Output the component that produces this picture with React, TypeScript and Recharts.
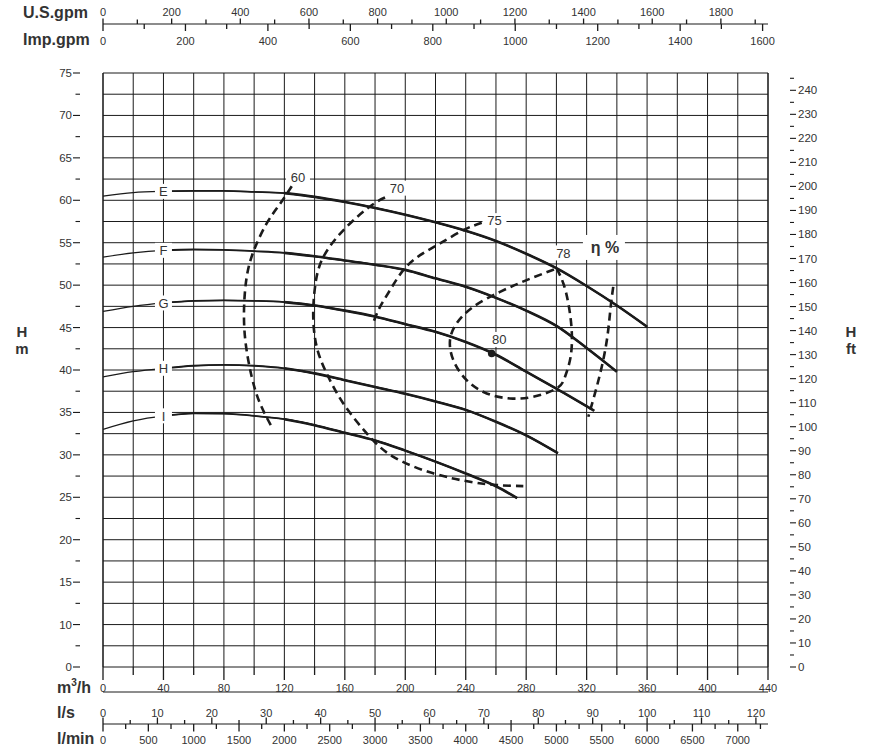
import React from 'react';
import { ComposedChart, Line, XAxis, YAxis, CartesianGrid, Scatter } from 'recharts';

const W = 877;
const H = 748;
const INK = '#1b1b1b';
const TXT = '#333333';
const FONT = '"Liberation Sans", Arial, Helvetica, sans-serif';

// ---- Pump head curves: flow q (m³/h), head h (m) ----
const CURVE_E = [
  { q: 0, h: 60.5 }, { q: 20, h: 60.9 }, { q: 40, h: 61.05 }, { q: 60, h: 61.1 }, { q: 80, h: 61.1 },
  { q: 100, h: 61.0 }, { q: 120, h: 60.85 }, { q: 140, h: 60.4 }, { q: 160, h: 59.8 }, { q: 180, h: 59.1 },
  { q: 200, h: 58.3 }, { q: 220, h: 57.4 }, { q: 240, h: 56.4 }, { q: 260, h: 55.2 }, { q: 280, h: 53.7 },
  { q: 300, h: 52.0 }, { q: 320, h: 49.9 }, { q: 340, h: 47.6 }, { q: 360, h: 45.1 },
];
const CURVE_F = [
  { q: 0, h: 53.3 }, { q: 20, h: 53.8 }, { q: 40, h: 54.1 }, { q: 60, h: 54.2 }, { q: 80, h: 54.15 },
  { q: 100, h: 54.0 }, { q: 120, h: 53.8 }, { q: 140, h: 53.4 }, { q: 160, h: 52.9 }, { q: 180, h: 52.4 },
  { q: 200, h: 51.8 }, { q: 220, h: 50.8 }, { q: 240, h: 49.8 }, { q: 260, h: 48.5 }, { q: 280, h: 47.0 },
  { q: 300, h: 45.2 }, { q: 320, h: 42.6 }, { q: 340, h: 39.8 },
];
const CURVE_G = [
  { q: 0, h: 46.9 }, { q: 20, h: 47.5 }, { q: 40, h: 47.9 }, { q: 60, h: 48.15 }, { q: 80, h: 48.2 },
  { q: 100, h: 48.15 }, { q: 120, h: 48.0 }, { q: 140, h: 47.6 }, { q: 160, h: 47.0 }, { q: 180, h: 46.3 },
  { q: 200, h: 45.4 }, { q: 220, h: 44.5 }, { q: 240, h: 43.3 }, { q: 260, h: 41.8 }, { q: 280, h: 39.8 },
  { q: 300, h: 37.8 }, { q: 325, h: 35.2 },
];
const CURVE_H = [
  { q: 0, h: 39.2 }, { q: 20, h: 39.8 }, { q: 40, h: 40.2 }, { q: 60, h: 40.5 }, { q: 80, h: 40.6 },
  { q: 100, h: 40.5 }, { q: 120, h: 40.2 }, { q: 140, h: 39.6 }, { q: 160, h: 38.8 }, { q: 180, h: 38.0 },
  { q: 200, h: 37.2 }, { q: 220, h: 36.3 }, { q: 240, h: 35.3 }, { q: 260, h: 33.9 }, { q: 280, h: 32.3 },
  { q: 301, h: 30.2 },
];
const CURVE_I = [
  { q: 0, h: 33.0 }, { q: 20, h: 34.0 }, { q: 40, h: 34.6 }, { q: 60, h: 34.9 }, { q: 80, h: 34.85 },
  { q: 100, h: 34.6 }, { q: 120, h: 34.2 }, { q: 140, h: 33.5 }, { q: 160, h: 32.6 }, { q: 180, h: 31.7 },
  { q: 200, h: 30.5 }, { q: 220, h: 29.2 }, { q: 240, h: 27.8 }, { q: 260, h: 26.3 }, { q: 274, h: 24.9 },
];
const PUMP_CURVES = [
  { name: 'E', data: CURVE_E },
  { name: 'F', data: CURVE_F },
  { name: 'G', data: CURVE_G },
  { name: 'H', data: CURVE_H },
  { name: 'I', data: CURVE_I },
];
const CURVE_LABEL_Q = 40;

// ---- Iso-efficiency curves (dashed) ----
const EFF_60 = [
  { q: 124.9, h: 61.66 }, { q: 116.8, h: 59.5 }, { q: 108.3, h: 57.27 }, { q: 99.9, h: 54.12 },
  { q: 95.1, h: 50.98 }, { q: 93.3, h: 47.05 }, { q: 94.4, h: 43.13 }, { q: 98.4, h: 39.2 },
  { q: 103.9, h: 36.06 }, { q: 111.6, h: 33.31 },
];
const EFF_70 = [
  { q: 186.6, h: 60.33 }, { q: 177.8, h: 59.42 }, { q: 161.2, h: 56.87 }, { q: 145.8, h: 53.33 },
  { q: 140.3, h: 49.8 }, { q: 139.1, h: 46.27 }, { q: 141.4, h: 42.73 }, { q: 148.0, h: 39.6 },
  { q: 159.0, h: 36.06 }, { q: 174.5, h: 32.53 }, { q: 192.1, h: 29.77 }, { q: 218.5, h: 27.82 },
  { q: 242.8, h: 26.83 }, { q: 260.5, h: 26.44 }, { q: 278.1, h: 26.32 },
];
const EFF_75 = [
  { q: 250.6, h: 57.34 }, { q: 238.4, h: 56.48 }, { q: 223.0, h: 54.91 }, { q: 209.8, h: 53.53 },
  { q: 198.7, h: 51.77 }, { q: 189.9, h: 49.41 }, { q: 183.3, h: 47.44 }, { q: 179.3, h: 45.79 },
];
const EFF_75_RIGHT = [
  { q: 337.6, h: 49.8 }, { q: 335.9, h: 47.44 }, { q: 333.7, h: 43.91 }, { q: 330.0, h: 40.38 },
  { q: 325.5, h: 37.24 }, { q: 321.1, h: 34.49 },
];
const EFF_78 = [
  { q: 300.2, h: 51.97 }, { q: 304.6, h: 50.2 }, { q: 307.9, h: 47.84 }, { q: 310.1, h: 44.7 },
  { q: 309.4, h: 41.55 }, { q: 305.7, h: 39.2 }, { q: 300.2, h: 37.83 }, { q: 284.7, h: 36.84 },
  { q: 269.3, h: 36.65 }, { q: 253.9, h: 37.24 }, { q: 240.6, h: 38.81 }, { q: 231.8, h: 41.16 },
  { q: 229.6, h: 43.52 }, { q: 234.0, h: 45.49 }, { q: 245.0, h: 47.44 }, { q: 262.7, h: 49.21 },
  { q: 280.3, h: 50.59 }, { q: 300.2, h: 51.97 },
];
const EFF_LINES = [EFF_60, EFF_70, EFF_75, EFF_75_RIGHT, EFF_78];
const EFF_LABELS = [
  { text: '60', q: 129.0, h: 62.72 },
  { text: '70', q: 194.5, h: 61.43 },
  { text: '75', q: 259.0, h: 57.6 },
  { text: '78', q: 304.6, h: 53.8 },
  { text: '80', q: 262.2, h: 43.6 },
];
const ETA_LABEL = [{ text: 'η %', q: 332.1, h: 54.5 }];
const BEP_POINT = [{ q: 257.2, h: 41.95 }];

// ---- Axes ----
const M3H_MAX = 440;
const US_PER_M3H = 4.402868;
const IMP_PER_M3H = 3.666154;
const LS_PER_M3H = 1 / 3.6;
const LMIN_PER_M3H = 1000 / 60;
const HEAD_M_MIN = 5;
const HEAD_M_MAX = 75;
const HEAD_FT_TOP = 247.2;

const M3H_TICKS = [0, 20, 40, 60, 80, 100, 120, 140, 160, 180, 200, 220, 240, 260, 280, 300, 320, 340, 360, 380, 400, 420, 440];
const M3H_LABELS = [0, 40, 80, 120, 160, 200, 240, 280, 320, 360, 400, 440];
const LS_TICKS = [0, 5, 10, 15, 20, 25, 30, 35, 40, 45, 50, 55, 60, 65, 70, 75, 80, 85, 90, 95, 100, 105, 110, 115, 120];
const LS_LABELS = [0, 10, 20, 30, 40, 50, 60, 70, 80, 90, 100, 110, 120];
const LMIN_TICKS = [0, 250, 500, 750, 1000, 1250, 1500, 1750, 2000, 2250, 2500, 2750, 3000, 3250, 3500, 3750, 4000, 4250, 4500, 4750, 5000, 5250, 5500, 5750, 6000, 6250, 6500, 6750, 7000, 7250];
const LMIN_LABELS = [0, 500, 1000, 1500, 2000, 2500, 3000, 3500, 4000, 4500, 5000, 5500, 6000, 6500, 7000];
const USGPM_TICKS = [0, 100, 200, 300, 400, 500, 600, 700, 800, 900, 1000, 1100, 1200, 1300, 1400, 1500, 1600, 1700, 1800, 1900];
const USGPM_LABELS = [0, 200, 400, 600, 800, 1000, 1200, 1400, 1600, 1800];
const IMPGPM_TICKS = [0, 100, 200, 300, 400, 500, 600, 700, 800, 900, 1000, 1100, 1200, 1300, 1400, 1500, 1600];
const IMPGPM_LABELS = [0, 200, 400, 600, 800, 1000, 1200, 1400, 1600];
const HEAD_M_TICKS = [5, 7.5, 10, 12.5, 15, 17.5, 20, 22.5, 25, 27.5, 30, 32.5, 35, 37.5, 40, 42.5, 45, 47.5, 50, 52.5, 55, 57.5, 60, 62.5, 65, 67.5, 70, 72.5, 75];
const HEAD_M_LABEL_VALUES = [5, 10, 15, 20, 25, 30, 35, 40, 45, 50, 55, 60, 65, 70, 75];
const HEAD_M_LABEL_TEXT = ['0', '10', '15', '20', '25', '30', '35', '40', '45', '50', '55', '60', '65', '70', '75'];
const HEAD_FT_TICKS = [0, 5, 10, 15, 20, 25, 30, 35, 40, 45, 50, 55, 60, 65, 70, 75, 80, 85, 90, 95, 100, 105, 110, 115, 120, 125, 130, 135, 140, 145, 150, 155, 160, 165, 170, 175, 180, 185, 190, 195, 200, 205, 210, 215, 220, 225, 230, 235, 240, 245];
const HEAD_FT_LABELS = [0, 10, 20, 30, 40, 50, 60, 70, 80, 90, 100, 110, 120, 130, 140, 150, 160, 170, 180, 190, 200, 210, 220, 230, 240];

// ---- layout constants (pixels) ----
const TOP_LINE_Y = 24;
const PLOT_BOTTOM_Y = 667;
const BOTTOM_LINE_Y = 724;
const LEFT_AXIS_X = 80;
const RIGHT_AXIS_X = 790;

const tickText = { fontFamily: FONT, fontSize: 11, fill: TXT } as const;
const titleText = { fontFamily: FONT, fontSize: 16, fontWeight: 700, fill: TXT } as const;

function makeHTick(labels: number[], lineY: number, dir: number, majorLen: number, minorLen: number, labelY: number) {
  return (p: any) => {
    const v = p.payload.value;
    const x = p.x;
    const major = labels.includes(v);
    return (
      <g>
        <line x1={x} x2={x} y1={lineY} y2={lineY + dir * (major ? majorLen : minorLen)} stroke={INK} strokeWidth={1.3} />
        {major ? (
          <text x={x} y={labelY} textAnchor="middle" {...tickText}>{v}</text>
        ) : null}
      </g>
    );
  };
}

const usTick = makeHTick(USGPM_LABELS, TOP_LINE_Y, -1, 5.5, 4.5, 16);
const impTick = makeHTick(IMPGPM_LABELS, TOP_LINE_Y, 1, 7, 5, 44.5);
const m3hTick = makeHTick(M3H_LABELS, PLOT_BOTTOM_Y, 1, 13, 8, 692);
const lsTick = makeHTick(LS_LABELS, BOTTOM_LINE_Y, -1, 6.5, 4, 716.5);
const lminTick = makeHTick(LMIN_LABELS, BOTTOM_LINE_Y, 1, 7.5, 5, 743.5);

const leftTick = (p: any) => {
  const v = p.payload.value;
  const y = p.y;
  const idx = HEAD_M_LABEL_VALUES.indexOf(v);
  const major = idx >= 0;
  return (
    <g>
      <line x1={LEFT_AXIS_X} x2={LEFT_AXIS_X - (major ? 7 : 4.5)} y1={y} y2={y} stroke={INK} strokeWidth={1.1} />
      {major ? (
        <text x={72} y={y + 4} textAnchor="end" {...tickText} fontSize={11.5}>{HEAD_M_LABEL_TEXT[idx]}</text>
      ) : null}
    </g>
  );
};

const rightTick = (p: any) => {
  const v = p.payload.value;
  const y = p.y;
  const major = HEAD_FT_LABELS.includes(v);
  return (
    <g>
      <line x1={RIGHT_AXIS_X} x2={RIGHT_AXIS_X + (major ? 6 : 4)} y1={y} y2={y} stroke={INK} strokeWidth={1.1} />
      {major ? (
        <text x={798} y={y + 4} textAnchor="start" {...tickText} fontSize={11.5}>{v}</text>
      ) : null}
    </g>
  );
};

// Axis title; optionally draws the axis' base line across the axis' own viewBox width.
const titleLabel = (node: React.ReactNode, lineY?: number) => ({
  content: (props: any) => {
    const vb = props && props.viewBox ? props.viewBox : null;
    return (
      <g>
        {lineY != null && vb && typeof vb.x === 'number' && typeof vb.width === 'number' ? (
          <line x1={vb.x} x2={vb.x + vb.width} y1={lineY} y2={lineY} stroke={INK} strokeWidth={1.2} />
        ) : null}
        {node}
      </g>
    );
  },
});

function CurveTag(p: any) {
  const { cx, cy, payload } = p;
  const w = 10 + 7 * String(payload.text).length;
  return (
    <g>
      <rect x={cx - w / 2} y={cy - 7.5} width={w} height={15} fill="#ffffff" />
      <text x={cx} y={cy} dy="0.36em" textAnchor="middle" fontFamily={FONT} fontSize={13} fill={TXT}>{payload.text}</text>
    </g>
  );
}

function EtaTag(p: any) {
  const { cx, cy, payload } = p;
  return (
    <g>
      <rect x={cx - 22} y={cy - 12} width={42} height={25} fill="#ffffff" />
      <text x={cx} y={cy} dy="0.36em" textAnchor="middle" {...titleText}>{payload.text}</text>
    </g>
  );
}

function BepDot(p: any) {
  return <circle cx={p.cx} cy={p.cy} r={3.8} fill={INK} />;
}

const TIERS = [
  { from: 0, width: 1.2 },
  { from: 40, width: 1.8 },
  { from: 120, width: 2.6 },
];

const curveTags = PUMP_CURVES.map((c) => {
  const pt = c.data.find((d) => d.q === CURVE_LABEL_Q) || c.data[0];
  return { text: c.name, q: pt.q, h: pt.h };
});

export default function App() {
  return (
    <div style={{ position: 'absolute', left: 0, top: 0, width: W, height: H, background: '#ffffff' }}>
      <ComposedChart width={W} height={H} margin={{ top: 0, right: 0, bottom: 0, left: 0 }}>
        <CartesianGrid xAxisId="m3h" yAxisId="left" stroke={INK} strokeWidth={1} />
        <XAxis
          xAxisId="m3h" dataKey="q" type="number" orientation="bottom" height={56}
          domain={[0, M3H_MAX]} ticks={M3H_TICKS} interval={0} allowDataOverflow
          tickLine={false} axisLine={{ stroke: INK, strokeWidth: 1 }} tick={m3hTick}
          label={titleLabel(
            <text x={57} y={693} {...titleText}>m<tspan fontSize={10} dy={-7}>3</tspan><tspan dy={7}>/h</tspan></text>
          )}
        />
        <XAxis
          xAxisId="ls" dataKey="ls" type="number" orientation="bottom" height={1}
          domain={[0, M3H_MAX * LS_PER_M3H]} ticks={LS_TICKS} interval={0} allowDataOverflow
          tickLine={false} axisLine={false} tick={lsTick}
          label={titleLabel(<text x={57} y={717.5} {...titleText}>l/s</text>)}
        />
        <XAxis
          xAxisId="lmin" dataKey="lmin" type="number" orientation="bottom" height={24}
          domain={[0, M3H_MAX * LMIN_PER_M3H]} ticks={LMIN_TICKS} interval={0} allowDataOverflow
          tickLine={false} axisLine={false} tick={lminTick}
          label={titleLabel(<text x={57} y={744} {...titleText}>l/min</text>, BOTTOM_LINE_Y)}
        />
        <XAxis
          xAxisId="imp" dataKey="imp" type="number" orientation="top" height={49}
          domain={[0, M3H_MAX * IMP_PER_M3H]} ticks={IMPGPM_TICKS} interval={0} allowDataOverflow
          tickLine={false} axisLine={false} tick={impTick}
          label={titleLabel(<text x={23} y={45} {...titleText}>Imp.gpm</text>)}
        />
        <XAxis
          xAxisId="us" dataKey="us" type="number" orientation="top" height={24}
          domain={[0, M3H_MAX * US_PER_M3H]} ticks={USGPM_TICKS} interval={0} allowDataOverflow
          tickLine={false} axisLine={false} tick={usTick}
          label={titleLabel(<text x={23} y={17.5} {...titleText}>U.S.gpm</text>, TOP_LINE_Y)}
        />
        <YAxis yAxisId="lsp" orientation="left" width={23} type="number" domain={[0, 1]} tick={false} tickLine={false} axisLine={false} />
        <YAxis
          yAxisId="left" orientation="left" width={80} dataKey="h" type="number"
          domain={[HEAD_M_MIN, HEAD_M_MAX]} ticks={HEAD_M_TICKS} interval={0} allowDataOverflow
          tickLine={false} axisLine={{ stroke: INK, strokeWidth: 1.1 }} tick={leftTick}
          label={titleLabel(
            <text x={22} y={337} textAnchor="middle" {...titleText} fontSize={15}>
              <tspan x={22}>H</tspan>
              <tspan x={22} dy={17}>m</tspan>
            </text>
          )}
        />
        <YAxis yAxisId="rsp" orientation="right" width={22} type="number" domain={[0, 1]} tick={false} tickLine={false} axisLine={false} />
        <YAxis
          yAxisId="ft" orientation="right" width={87} type="number"
          domain={[0, HEAD_FT_TOP]} ticks={HEAD_FT_TICKS} interval={0} allowDataOverflow
          tickLine={false} axisLine={{ stroke: INK, strokeWidth: 1.1 }} tick={rightTick}
          label={titleLabel(
            <text x={851} y={337} textAnchor="middle" {...titleText} fontSize={15}>
              <tspan x={851}>H</tspan>
              <tspan x={851} dy={17}>ft</tspan>
            </text>
          )}
        />

        {PUMP_CURVES.flatMap((c) =>
          TIERS.map((t) => (
            <Line
              key={`${c.name}-${t.from}`}
              xAxisId="m3h" yAxisId="left"
              data={c.data.filter((d) => d.q >= t.from)}
              dataKey="h" type="monotone" stroke={INK} strokeWidth={t.width}
              dot={false} activeDot={false} isAnimationActive={false}
            />
          ))
        )}

        {EFF_LINES.map((d, i) => (
          <Line
            key={`eff-${i}`}
            xAxisId="m3h" yAxisId="left" data={d} dataKey="h" type="natural"
            stroke={INK} strokeWidth={2.6} strokeDasharray="8 5"
            dot={false} activeDot={false} isAnimationActive={false}
          />
        ))}

        <Scatter xAxisId="m3h" yAxisId="left" data={curveTags} shape={CurveTag} isAnimationActive={false} />
        <Scatter xAxisId="m3h" yAxisId="left" data={EFF_LABELS} shape={CurveTag} isAnimationActive={false} />
        <Scatter xAxisId="m3h" yAxisId="left" data={ETA_LABEL} shape={EtaTag} isAnimationActive={false} />
        <Scatter xAxisId="m3h" yAxisId="left" data={BEP_POINT} shape={BepDot} isAnimationActive={false} />
      </ComposedChart>
    </div>
  );
}
